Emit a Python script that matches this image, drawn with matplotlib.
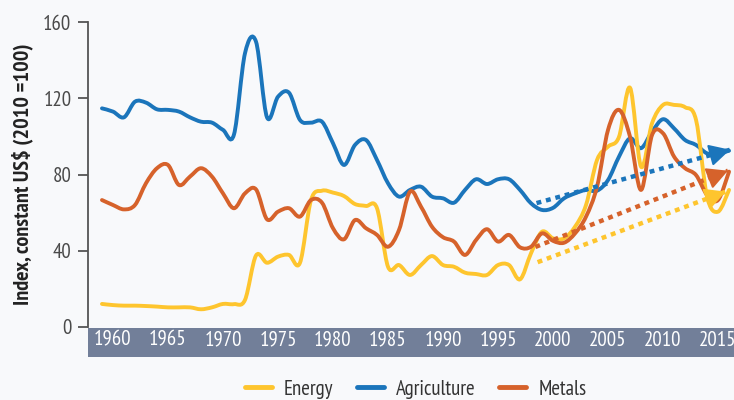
import matplotlib
matplotlib.use("Agg")
import matplotlib.pyplot as plt
import numpy as np
from matplotlib.path import Path
from matplotlib.patches import PathPatch
from matplotlib.lines import Line2D

# ---------------- data ----------------
years = list(range(1960, 2018))

energy = [12.1, 11.5, 11.2, 11.2, 11.0, 10.7, 10.3, 10.3, 10.3, 9.3,
          10.3, 12.1, 12.0, 14.2, 37.5, 33.7, 36.9, 37.8, 33.7, 66.6,
          71.5, 70.5, 68.7, 64.5, 63.5, 62.3, 31.6, 32.5, 27.3, 32.5,
          37.2, 32.5, 31.6, 28.5, 27.8, 27.3, 32.5, 32.5, 25.0, 38.7,
          50.0, 46.5, 46.5, 52.6, 64.0, 87.6, 94.6, 99.8, 125.5, 84.1,
          106.9, 116.5, 116.5, 115.3, 108.6, 68.4, 60.5, 71.9]

agriculture = [114.7, 113.0, 110.0, 118.2, 117.7, 114.2, 113.9, 113.0, 110.0, 107.7,
               107.2, 103.4, 101.0, 143.6, 149.7, 110.0, 120.8, 122.9, 108.6, 107.2,
               107.7, 96.4, 85.0, 95.5, 98.1, 87.6, 75.4, 68.4, 71.9, 73.6,
               68.4, 67.5, 65.2, 71.9, 77.5, 75.0, 77.5, 77.5, 71.9, 64.9,
               61.4, 62.5, 67.5, 70.1, 71.9, 71.5, 77.1, 89.4, 99.0, 93.8,
               102.5, 109.0, 104.2, 98.1, 95.5, 91.1, 91.0, 92.5]

metals = [66.6, 64.0, 61.7, 64.0, 75.4, 83.3, 85.0, 74.5, 78.9, 83.3,
          78.9, 70.1, 62.3, 70.1, 72.2, 56.5, 60.5, 62.3, 57.9, 66.6,
          65.2, 51.8, 46.0, 56.1, 51.8, 48.3, 42.1, 50.9, 71.0, 63.1,
          52.6, 47.1, 44.8, 37.8, 45.6, 51.3, 44.8, 48.3, 41.8, 42.1,
          49.1, 45.2, 44.2, 49.1, 57.9, 73.6, 103.4, 113.9, 99.8, 71.9,
          100.7, 101.6, 89.4, 83.3, 79.7, 69.3, 66.6, 81.5]

# trend arrows: (start year, start value, end year, end value)
trend_energy = [1999.6, 34.0, 2016.7, 71.0]
trend_agriculture = [1999.5, 65.0, 2017.1, 93.0]
trend_metals = [1999.4, 42.0, 2016.9, 82.0]

tick_years = [1960, 1965, 1970, 1975, 1980, 1985, 1990, 1995, 2000, 2005, 2010, 2015]
tick_labels = [str(y) for y in tick_years]
y_ticks = [0, 40, 80, 120, 160]

# ---------------- style ----------------
C_ENERGY = "#fec52e"
C_AGRI = "#1b75bb"
C_METALS = "#d6622b"
C_BAND = "#727f99"
BG = "#f8f9fb"
AXC = "#555555"

FAM = ["PT Sans Narrow", "Fira Sans Condensed", "DejaVu Sans"]
plt.rcParams["font.family"] = FAM

W, H = 734, 400
fig = plt.figure(figsize=(W / 100, H / 100), dpi=100, facecolor=BG)

x0, x1 = 88, 734
ax = fig.add_axes([x0 / W, (H - 327) / H, (x1 - x0) / W, 305 / H], facecolor="none")
XMIN, XMAX = 1958.73, 2017.45
ax.set_xlim(XMIN, XMAX)
ax.set_ylim(0, 160)


def smooth_path(xs, ys):
    P = np.column_stack([xs, ys]).astype(float)
    n = len(P)
    verts = [P[0]]
    codes = [Path.MOVETO]
    for i in range(n - 1):
        p0 = P[i - 1] if i > 0 else P[i]
        p1 = P[i]
        p2 = P[i + 1]
        p3 = P[i + 2] if i + 2 < n else P[i + 1]
        c1 = p1 + (p2 - p0) / 6.0
        c2 = p2 - (p3 - p1) / 6.0
        verts += [c1, c2, p2]
        codes += [Path.CURVE4] * 3
    return Path(verts, codes)


series = [("Energy", energy, C_ENERGY), ("Agriculture", agriculture, C_AGRI), ("Metals", metals, C_METALS)]
LW = 2.8
for z, (name, vals, col) in zip([3, 2, 4], series):
    patch = PathPatch(smooth_path(years, vals), facecolor="none", edgecolor=col,
                      lw=LW, capstyle="round", joinstyle="round", transform=ax.transData, zorder=z)
    ax.add_patch(patch)

for trend, col in [(trend_energy, C_ENERGY), (trend_agriculture, C_AGRI), (trend_metals, C_METALS)]:
    xs_, ys_, xe, ye = trend
    ax.plot([xs_, xe], [ys_, ye], color=col, lw=3.2, linestyle=(0, (1.1, 1.1)),
            dash_capstyle="butt", zorder=5)
    fx = xe - 0.9
    fy = ys_ + (ye - ys_) * (fx - xs_) / (xe - xs_)
    ax.annotate("", xy=(xe, ye), xytext=(fx, fy),
                arrowprops=dict(arrowstyle="-|>,head_length=0.8,head_width=0.42",
                                color=col, lw=1.5, shrinkA=0, shrinkB=0,
                                mutation_scale=16), zorder=6)

for s in ["top", "right", "bottom"]:
    ax.spines[s].set_visible(False)
ax.spines["left"].set_color(AXC)
ax.spines["left"].set_linewidth(1.3)
ax.set_xticks([])
ax.set_yticks(y_ticks)
ax.set_yticklabels([str(v) for v in y_ticks])
ax.tick_params(axis="y", length=7, width=1.3, color=AXC, labelsize=15, labelcolor="#4a4a4a", pad=5)
ax.set_ylabel("Index, constant US$ (2010 =100)", fontsize=16, fontweight="bold",
              color="#222222", labelpad=7)

# band axis with year labels
band = fig.add_axes([x0 / W, (H - 357) / H, (x1 - x0) / W, 29 / H], facecolor=C_BAND)
band.set_xlim(XMIN, XMAX)
band.set_ylim(0, 1)
band.set_yticks([])
band.set_xticks([y + 1 for y in tick_years])
band.set_xticklabels(tick_labels)
band.tick_params(axis="x", length=0, labelsize=15, labelcolor="white", pad=-19)
for s in band.spines.values():
    s.set_visible(False)

handles = [Line2D([0], [0], color=c, lw=3.5, solid_capstyle="round") for _, _, c in series]
fig.legend(handles, [n for n, _, _ in series], loc="center", bbox_to_anchor=(0.566, 0.027),
           ncol=3, frameon=False, fontsize=15, handlelength=1.3, handletextpad=0.6,
           columnspacing=1.1, labelcolor="#333333")

fig.savefig("out.png", dpi=100, facecolor=BG)
